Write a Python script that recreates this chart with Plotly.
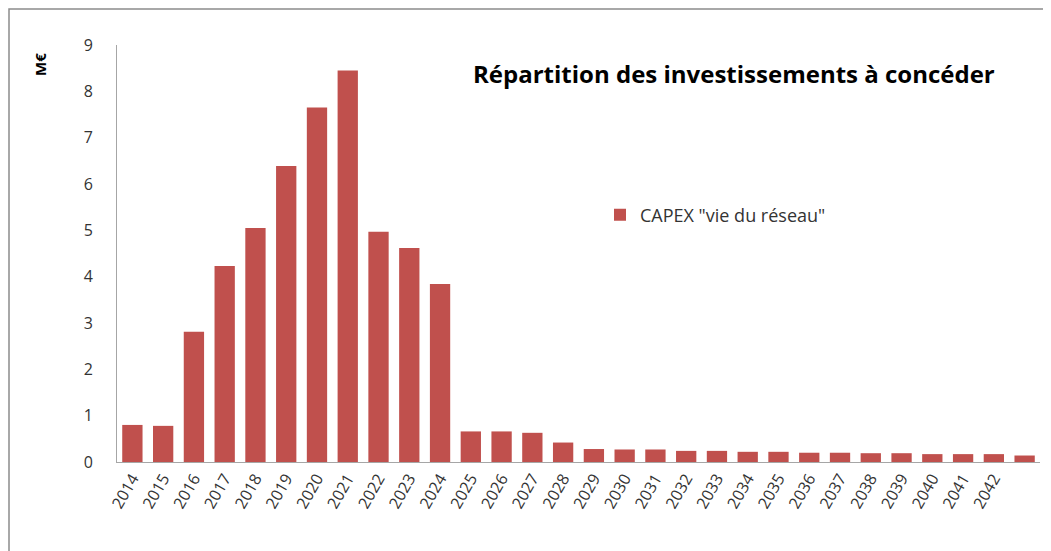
import plotly.graph_objects as go

years = list(range(2014, 2044))
values = [0.80, 0.78, 2.81, 4.23, 5.05, 6.39, 7.65, 8.45, 4.97, 4.62, 3.84,
          0.66, 0.66, 0.63, 0.42, 0.28, 0.27, 0.27, 0.24, 0.24, 0.22, 0.22,
          0.20, 0.20, 0.19, 0.19, 0.17, 0.17, 0.17, 0.14]
tick_years = list(range(2014, 2043))
tick_labels = [str(y) for y in tick_years]
y_ticks = list(range(0, 10))

series_name = 'CAPEX "vie du réseau"'
title_text = "Répartition des investissements à concéder"
unit_text = "M€"

# page body has an 8px margin; figure is sized/offset to compensate
OFF = 8
W, H = 1051 - OFF, 551 - OFF
L = 117 - OFF
T = 45 - OFF
R = W - (1040 - OFF)
B = H - (462 - OFF)
pw = W - L - R
ph = H - T - B


def px(xpage):
    return (xpage - OFF - L) / pw


def py(ypage):
    return 1 - (ypage - OFF - T) / ph


fig = go.Figure()
fig.add_trace(go.Bar(
    x=years, y=values, name=series_name,
    marker=dict(color="#C0504D", line=dict(width=0)),
))

fig.update_layout(
    width=W, height=H,
    margin=dict(l=L, r=R, t=T, b=B, autoexpand=False),
    plot_bgcolor="white", paper_bgcolor="white",
    bargap=0.34,
    font=dict(family="Open Sans, Liberation Sans, sans-serif", color="#404040"),
    showlegend=True,
    legend=dict(x=px(600), y=py(215), xanchor="left", yanchor="middle",
                bgcolor="rgba(0,0,0,0)", font=dict(size=18, color="#333333"),
                itemwidth=30),
    xaxis=dict(
        range=[2013.5, 2043.5], automargin=False,
        tickmode="array", tickvals=tick_years, ticktext=tick_labels,
        tickangle=-60, tickfont=dict(size=16, color="#333333"),
        showline=True, linecolor="#a6a6a6", linewidth=1,
        showgrid=False, zeroline=False, ticks="",
    ),
    yaxis=dict(
        range=[0, 9], automargin=False, tickmode="array", tickvals=y_ticks,
        tickfont=dict(size=16, color="#333333"),
        showline=True, linecolor="#a6a6a6", linewidth=1,
        showgrid=False, zeroline=False, ticks="",
        ticklabelstandoff=20,
    ),
    annotations=[
        dict(text="<b>" + title_text + "</b>", xref="paper", yref="paper",
             x=px(734), y=py(73), xanchor="center", yanchor="middle",
             showarrow=False, font=dict(size=24, color="#000000",
                                        family="Open Sans, Liberation Sans, sans-serif")),
        dict(text="<b>" + unit_text + "</b>", xref="paper", yref="paper",
             x=px(40), y=py(65), xanchor="center", yanchor="middle",
             textangle=-90, showarrow=False,
             font=dict(size=15, color="#000000")),
    ],
    shapes=[
        dict(type="rect", xref="paper", yref="paper",
             x0=px(9), x1=px(1050),
             y0=py(570), y1=py(9),
             line=dict(color="#8c8c8c", width=1.5), fillcolor="rgba(0,0,0,0)",
             layer="below"),
    ],
)

fig.write_html("out.html")
